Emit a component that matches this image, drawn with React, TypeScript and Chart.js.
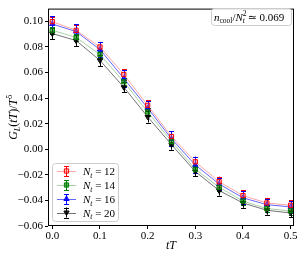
import React, { useEffect, useRef } from 'react';
import { Chart, registerables } from 'chart.js';
Chart.register(...registerables);

const tValues = [0, 0.05, 0.1, 0.15, 0.2, 0.25, 0.3, 0.35, 0.4, 0.45, 0.5];
const g12 = [0.0998, 0.093, 0.080, 0.0585, 0.0344, 0.0100, -0.0098, -0.0254, -0.0362, -0.0420, -0.0438];
const g14 = [0.0930, 0.0875, 0.0740, 0.0528, 0.0292, 0.0062, -0.0156, -0.0297, -0.0405, -0.0464, -0.0482];
const g16 = [0.0980, 0.0920, 0.0780, 0.0554, 0.0323, 0.0082, -0.0123, -0.0272, -0.0380, -0.0433, -0.0451];
const g20 = [0.0905, 0.0850, 0.0695, 0.0485, 0.0254, 0.0036, -0.0174, -0.0323, -0.0420, -0.0477, -0.0498];
const e12 = [0.004, 0.004, 0.004, 0.004, 0.004, 0.004, 0.004, 0.004, 0.004, 0.004, 0.004];
const e14 = [0.003, 0.003, 0.003, 0.003, 0.003, 0.003, 0.003, 0.003, 0.003, 0.003, 0.003];
const e16 = [0.006, 0.006, 0.0055, 0.0065, 0.0055, 0.006, 0.0065, 0.005, 0.005, 0.0042, 0.0045];
const e20 = [0.0045, 0.0045, 0.0045, 0.004, 0.0045, 0.004, 0.0035, 0.004, 0.0038, 0.0035, 0.0035];
const ntLabels = ['12', '14', '16', '20'];
const xTicks = [0, 0.1, 0.2, 0.3, 0.4, 0.5];
const yTicks = [-0.06, -0.04, -0.02, 0.0, 0.02, 0.04, 0.06, 0.08, 0.1];

const FONT = '"Liberation Serif", "DejaVu Serif", serif';

type Part = { t: string; it?: boolean; s?: number; dy?: number; adv?: boolean };

function drawRich(ctx: CanvasRenderingContext2D, parts: Part[], x: number, y: number, align: string, base = 11) {
  const fontOf = (p: Part) => `${p.it ? 'italic ' : ''}${p.s ?? base}px ${FONT}`;
  let w = 0;
  const ws: number[] = [];
  for (const p of parts) {
    ctx.font = fontOf(p);
    const m = ctx.measureText(p.t).width;
    ws.push(m);
    if (p.adv !== false) w += m;
  }
  let cx = align === 'left' ? x : align === 'center' ? x - w / 2 : x - w;
  ctx.textAlign = 'left';
  ctx.textBaseline = 'alphabetic';
  ctx.fillStyle = '#000';
  parts.forEach((p, i) => {
    ctx.font = fontOf(p);
    ctx.fillText(p.t, cx, y + (p.dy ?? 0));
    if (p.adv !== false) cx += ws[i];
  });
}

type Series = {
  vals: number[]; errs: number[]; color: string; line: string;
  style: string; fill: string; rot: number; label: string;
};

const series: Series[] = [
  { vals: g12, errs: e12, color: '#ff0000', line: 'rgba(255,0,0,0.35)', style: 'rect', fill: 'rgba(255,120,120,0.4)', rot: 0, label: ntLabels[0] },
  { vals: g14, errs: e14, color: '#008000', line: 'rgba(0,128,0,0.35)', style: 'rect', fill: 'rgba(0,128,0,0.6)', rot: 0, label: ntLabels[1] },
  { vals: g16, errs: e16, color: '#0000ff', line: 'rgba(0,0,255,0.6)', style: 'triangle', fill: 'rgba(0,0,255,0.75)', rot: 0, label: ntLabels[2] },
  { vals: g20, errs: e20, color: '#000000', line: 'rgba(0,0,0,0.55)', style: 'triangle', fill: 'rgba(0,0,0,0.8)', rot: 180, label: ntLabels[3] },
];

function drawMarker(ctx: CanvasRenderingContext2D, s: Series, x: number, y: number, r: number) {
  ctx.save();
  ctx.fillStyle = s.fill;
  ctx.strokeStyle = s.color;
  ctx.lineWidth = 1;
  ctx.beginPath();
  if (s.style === 'rect') {
    const h = r / Math.SQRT2;
    ctx.rect(x - h, y - h, 2 * h, 2 * h);
  } else {
    let rad = (s.rot * Math.PI) / 180;
    ctx.moveTo(x + Math.sin(rad) * r, y - Math.cos(rad) * r);
    rad += (2 * Math.PI) / 3;
    ctx.lineTo(x + Math.sin(rad) * r, y - Math.cos(rad) * r);
    rad += (2 * Math.PI) / 3;
    ctx.lineTo(x + Math.sin(rad) * r, y - Math.cos(rad) * r);
    ctx.closePath();
  }
  ctx.fill();
  ctx.stroke();
  ctx.restore();
}

function drawErr(ctx: CanvasRenderingContext2D, color: string, x: number, y1: number, y2: number) {
  ctx.save();
  ctx.strokeStyle = color;
  ctx.lineWidth = 1;
  ctx.beginPath();
  const xx = Math.round(x) + 0.5;
  ctx.moveTo(xx, y1);
  ctx.lineTo(xx, y2);
  ctx.moveTo(xx - 2.5, Math.round(y1) + 0.5);
  ctx.lineTo(xx + 2.5, Math.round(y1) + 0.5);
  ctx.moveTo(xx - 2.5, Math.round(y2) + 0.5);
  ctx.lineTo(xx + 2.5, Math.round(y2) + 0.5);
  ctx.stroke();
  ctx.restore();
}

const errPlugin = {
  id: 'errbars',
  beforeDatasetsDraw(chart: any) {
    const ctx = chart.ctx as CanvasRenderingContext2D;
    const xs = chart.scales.x, ys = chart.scales.y;
    series.forEach((s) => {
      s.vals.forEach((v, i) => {
        const x = xs.getPixelForValue(tValues[i]);
        drawErr(ctx, s.color, x, ys.getPixelForValue(v + s.errs[i]), ys.getPixelForValue(v - s.errs[i]));
      });
    });
  },
  afterDraw(chart: any) {
    const ctx = chart.ctx as CanvasRenderingContext2D;
    const a = chart.chartArea;
    ctx.save();
    ctx.strokeStyle = '#000';
    ctx.lineWidth = 1;
    ctx.strokeRect(a.left + 0.5, a.top + 0.5, a.right - a.left - 1, a.bottom - a.top - 1);
    ctx.restore();

    drawRich(ctx, [{ t: 't', it: true }, { t: 'T', it: true }], (a.left + a.right) / 2, 249, 'center', 12);
    ctx.save();
    ctx.translate(17, (a.top + a.bottom) / 2);
    ctx.rotate(-Math.PI / 2);
    drawRich(ctx, [
      { t: 'G', it: true },
      { t: 'L', it: true, s: 8, dy: 2.5 },
      { t: '(' },
      { t: 'tT', it: true },
      { t: ')/' },
      { t: 'T', it: true },
      { t: '5', s: 8, dy: -5 },
    ], 0, 0, 'center', 12);
    ctx.restore();

    ctx.save();
    ctx.fillStyle = 'rgba(255,255,255,0.85)';
    ctx.strokeStyle = '#cccccc';
    ctx.lineWidth = 1;
    ctx.beginPath();
    (ctx as any).roundRect(211.5, 8.5, 80, 17, 3);
    ctx.fill();
    ctx.stroke();
    ctx.restore();
    drawRich(ctx, [
      { t: 'n', it: true },
      { t: 'cool', s: 7.5, dy: 2 },
      { t: '/' },
      { t: 'N', it: true },
      { t: '2', s: 7.5, dy: -4.5, adv: false },
      { t: 't', it: true, s: 7.5, dy: 2.5 },
      { t: ' \u2243 0.069' },
    ], 214, 20.5, 'left', 11);

    ctx.save();
    ctx.fillStyle = 'rgba(255,255,255,0.85)';
    ctx.strokeStyle = '#cccccc';
    ctx.lineWidth = 1;
    ctx.beginPath();
    (ctx as any).roundRect(52.5, 163.5, 66, 58, 3);
    ctx.fill();
    ctx.stroke();
    ctx.restore();
    const rows = [171, 185, 199, 212.5];
    series.forEach((s, i) => {
      const y = rows[i];
      ctx.save();
      ctx.strokeStyle = s.line;
      ctx.lineWidth = 1;
      ctx.beginPath();
      ctx.moveTo(57, Math.round(y) + 0.5);
      ctx.lineTo(76, Math.round(y) + 0.5);
      ctx.stroke();
      ctx.restore();
      drawErr(ctx, s.color, 66, y - 5, y + 5);
      drawMarker(ctx, s, 66.5, y, 3);
      drawRich(ctx, [
        { t: 'N', it: true },
        { t: 't', it: true, s: 7.5, dy: 2.5 },
        { t: ' = ' + s.label },
      ], 83, y + 4, 'left', 11);
    });
  },
};

export default function App() {
  const ref = useRef<HTMLCanvasElement | null>(null);
  useEffect(() => {
    if (!ref.current) return;
    const chart = new Chart(ref.current, {
      type: 'line',
      data: {
        datasets: series.map((s) => ({
          label: s.label,
          data: tValues.map((t, i) => ({ x: t, y: s.vals[i] })),
          borderColor: s.line,
          borderWidth: 1,
          pointStyle: s.style as any,
          pointRotation: s.rot,
          pointRadius: 3,
          pointBorderWidth: 1,
          pointBackgroundColor: s.fill,
          pointBorderColor: s.color,
          tension: 0,
          fill: false,
        })),
      },
      options: {
        animation: false,
        responsive: false,
        devicePixelRatio: 1,
        layout: { padding: { left: 0, top: 4, right: 7, bottom: 0 } },
        plugins: { legend: { display: false }, tooltip: { enabled: false } },
        scales: {
          x: {
            type: 'linear',
            min: -0.009,
            max: 0.507,
            afterBuildTicks: (sc: any) => { sc.ticks = xTicks.map((v) => ({ value: v })); },
            afterFit: (sc: any) => { sc.height = 30; },
            ticks: {
              padding: 1,
              color: '#000',
              font: { family: FONT, size: 11 },
              maxRotation: 0,
              callback: (v: any) => Number(v).toFixed(1),
            },
            grid: { display: true, drawOnChartArea: false, drawTicks: true, tickLength: 3, color: '#000' },
            border: { display: false },
          },
          y: {
            type: 'linear',
            min: -0.06,
            max: 0.11,
            afterBuildTicks: (sc: any) => { sc.ticks = yTicks.map((v) => ({ value: v })); },
            afterFit: (sc: any) => { sc.width = 48; },
            ticks: {
              padding: 2,
              color: '#000',
              font: { family: FONT, size: 11 },
              callback: (v: any) => {
                const n = Number(v);
                const s = Math.abs(n).toFixed(2);
                return n < -1e-9 ? '\u2212' + s : s;
              },
            },
            grid: { display: true, drawOnChartArea: false, drawTicks: true, tickLength: 3, color: '#000' },
            border: { display: false },
          },
        },
      },
      plugins: [errPlugin],
    });
    return () => chart.destroy();
  }, []);
  return (
    <div style={{ position: 'absolute', left: 0, top: 0, width: 301, height: 256, background: '#fff' }}>
      <canvas ref={ref} width={301} height={256} style={{ width: 301, height: 256, display: 'block' }} />
    </div>
  );
}
